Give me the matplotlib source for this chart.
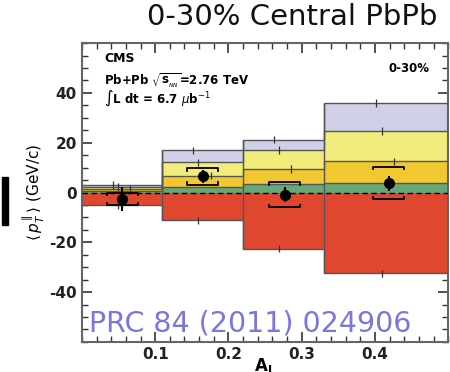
import matplotlib
matplotlib.use("Agg")
import matplotlib.pyplot as plt
import numpy as np
from matplotlib.patches import Rectangle

plt.rcParams['font.family'] = ['DejaVu Sans']
plt.rcParams['mathtext.fontset'] = 'dejavusans'

# ---- data ----
bin_edges = [0.0, 0.11, 0.22, 0.33, 0.5]
green_layer = [0.5, 2.4, 3.3, 3.7]
gold_layer = [1.0, 4.4, 6.2, 8.8]
yellow_layer = [0.7, 5.3, 7.5, 12.3]
lavender_layer = [0.8, 4.8, 4.2, 11.2]
red_layer = [-5.2, -11.2, -22.5, -32.5]
layer_err = [1.5, 1.5, 1.5, 1.5]

pt_x = [0.055, 0.165, 0.277, 0.419]
pt_y = [-2.6, 6.5, -0.9, 3.8]
pt_syst = [2.6, 3.3, 5.0, 6.5]
pt_stat = [5.0, 2.5, 3.0, 3.0]

xticks = [0.1, 0.2, 0.3, 0.4]
yticks = [-40, -20, 0, 20, 40]

# ---- style ----
c_red = '#e0472f'
c_green = '#68a878'
c_gold = '#f2c832'
c_yellow = '#f1ec7c'
c_lav = '#d0d0e8'
edge = '#555555'

fig = plt.figure(figsize=(4.5, 3.72), dpi=100)
ax = fig.add_axes([0.182, 0.081, 0.814, 0.803])

edges = np.array(bin_edges)
left = edges[:-1]
width = np.diff(edges)
centers = left + width / 2

layers = [(green_layer, c_green), (gold_layer, c_gold),
          (yellow_layer, c_yellow), (lavender_layer, c_lav)]
offs = [0.018, 0.011, -0.006, -0.013]
bottom = np.zeros(len(left))
tops = []
for (vals, col) in layers:
    vals = np.array(vals)
    ax.bar(left, vals, width=width, bottom=bottom, align='edge',
           color=col, edgecolor='none', zorder=2)
    bottom = bottom + vals
    tops.append(bottom.copy())
red = np.array(red_layer)
ax.bar(left, red, width=width, bottom=0, align='edge',
       color=c_red, edgecolor='none', zorder=2)

# step outlines
for t in tops + [red]:
    ax.stairs(t, edges, color=edge, lw=1.0, zorder=3, baseline=None)
ax.vlines(edges[1:-1], np.minimum(red[:-1], red[1:]),
          np.maximum(tops[-1][:-1], tops[-1][1:]), color=edge, lw=1.0, zorder=3)
ax.vlines([edges[-1]], [red[-1]], [tops[-1][-1]], color=edge, lw=1.0, zorder=3)

# small stat error ticks on layers
for t, o in zip(tops[1:], offs[1:]):
    ax.vlines(centers + o, t - np.array(layer_err), t + np.array(layer_err),
              color='#333333', lw=0.9, zorder=4)
ax.vlines(centers - 0.006, red - 1.5, red + 1.5,
          color='#333333', lw=0.9, zorder=4)

ax.axhline(0, color='black', lw=1.0, ls=(0, (4, 2.5)), zorder=4)

# data points with systematic brackets
bw = 0.021
for x, y, s in zip(pt_x, pt_y, pt_syst):
    for yy, sgn in ((y + s, -1), (y - s, 1)):
        ax.plot([x - bw, x - bw, x + bw, x + bw],
                [yy + sgn * 1.0, yy, yy, yy + sgn * 1.0],
                color='black', lw=1.3, zorder=5)
ax.errorbar(pt_x, pt_y, yerr=pt_stat, fmt='o', color='black', ms=7,
            elinewidth=1.5, capsize=0, zorder=6)

ax.set_xlim(0, 0.5)
ax.set_ylim(-60, 60)
ax.set_xticks(xticks)
ax.set_xticklabels([f'{v:.1f}' for v in xticks])
ax.set_yticks(yticks)
ax.set_yticklabels([str(v) for v in yticks])
ax.set_xticks(np.arange(0, 0.5001, 0.02), minor=True)
ax.set_yticks(np.arange(-60, 60.01, 5), minor=True)
ax.tick_params(which='both', direction='in', top=True, right=True,
               colors='#333333', labelcolor='#222222')
ax.tick_params(which='major', length=7, width=1.2, labelsize=11)
ax.tick_params(which='minor', length=4, width=1.0)
for lab in ax.get_xticklabels() + ax.get_yticklabels():
    lab.set_fontweight('bold')
for sp in ax.spines.values():
    sp.set_color('#666666')
    sp.set_linewidth(1.5)

ax.set_ylabel(r'$\langle\, p_{T}^{\parallel}\rangle$ (GeV/c)', fontsize=11,
              labelpad=2)
ax.set_xlabel(r'$\mathbf{A_J}$', fontsize=12)
ax.xaxis.set_label_coords(0.495, -0.05)

# texts
ax.text(0.06, 0.95, 'CMS', transform=ax.transAxes, fontsize=9,
        fontweight='bold', va='center')
ax.text(0.06, 0.877, r'Pb+Pb $\sqrt{\mathbf{s}_{_{NN}}}$=2.76 TeV',
        transform=ax.transAxes, fontsize=8.5, fontweight='bold', va='center')
ax.text(0.06, 0.815, r'$\int$L dt = 6.7 $\mu$b$^{-1}$',
        transform=ax.transAxes, fontsize=8.5, fontweight='bold', va='center')
ax.text(0.95, 0.915, '0-30%', transform=ax.transAxes, fontsize=8.5,
        fontweight='bold', va='center', ha='right')
ax.text(0.02, 0.06, 'PRC 84 (2011) 024906', transform=ax.transAxes,
        fontsize=20.5, color='#7777dd', va='center', ha='left', zorder=8)

fig.text(0.65, 0.953, '0-30% Central PbPb', fontsize=21, ha='center',
         va='center', color='#111111')

fig.patches.append(Rectangle((0.004, 0.395), 0.013, 0.13,
                             transform=fig.transFigure, color='black'))

fig.savefig('out.png', dpi=100)
